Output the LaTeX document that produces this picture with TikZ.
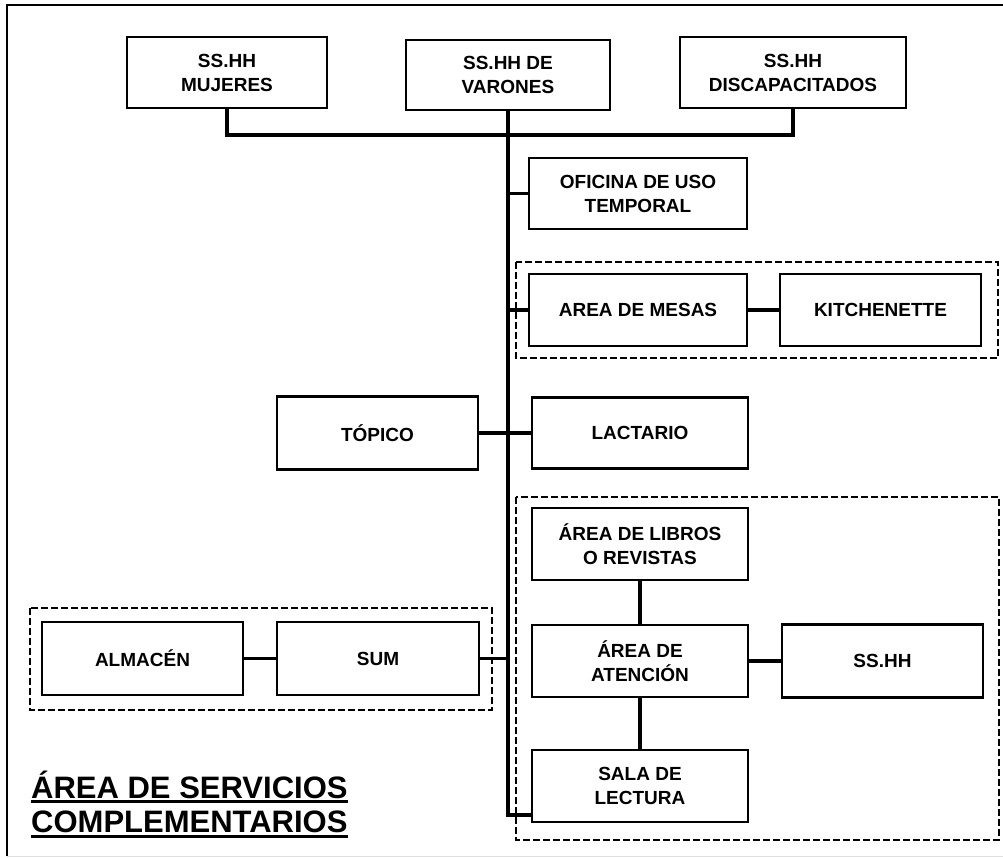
\documentclass[tikz,border=0pt]{standalone}
\usepackage{fontspec}
\setmainfont{Liberation Sans}
\usetikzlibrary{positioning}

\tikzset{
   caja/.style={draw, line width=2.2pt, align=center, inner sep=2pt,
      minimum width=201pt, minimum height=71pt,
      font=\bfseries\fontsize{19}{24}\selectfont},
   enlace/.style={line width=3.2pt},
   grupo/.style={line width=1.8pt, dash pattern=on 7pt off 3pt},
   titulo/.style={anchor=base west, inner sep=0pt,
      font=\bfseries\fontsize{31}{34}\selectfont},
}

\begin{document}
\begin{tikzpicture}[x=1pt, y=-1pt]
      \useasboundingbox (0,0) rectangle (1003,858);
      % Marco
      \draw[line width=1.8pt] (1003,5) -- (7,5) -- (7,856);
      \draw[line width=1pt, black!12] (7,856) -- (1003,856);
      % Grupos punteados
      \draw[grupo] (516,262) rectangle (998,358);
      \draw[grupo] (516,497) rectangle (999,840);
      \draw[grupo] (30,608) rectangle (492,710);
      % SS.HH superiores
      \node[caja, minimum width=200pt] (mujeres) at (227,72.5) {SS.HH\\MUJERES};
      \node[caja, minimum width=204pt, minimum height=70pt] (varones) at (508,75) {SS.HH DE\\VARONES};
      \node[caja, minimum width=226pt] (discap) at (793,72.5) {SS.HH\\DISCAPACITADOS};
      % Columna derecha
      \node[caja, minimum width=218pt] (oficina) at (638,193.5) {OFICINA DE USO\\TEMPORAL};
      \node[caja, minimum width=218pt, minimum height=72pt] (mesas) at (638,310) {AREA DE MESAS};
      \node[caja, minimum height=72pt] (kitchen) at (880.5,310) {KITCHENETTE};
      \node[caja, minimum height=73pt] (topico) at (377.5,433) {TÓPICO};
      \node[caja, minimum width=216pt] (lactario) at (640,433) {LACTARIO};
      \node[caja, minimum width=216pt, minimum height=72pt] (libros) at (640,544) {ÁREA DE LIBROS\\O REVISTAS};
      \node[caja, minimum width=216pt, minimum height=72pt] (atencion) at (640,661) {ÁREA DE\\ATENCIÓN};
      \node[caja, minimum height=73pt] (sshh) at (882.5,661) {SS.HH};
      \node[caja, minimum width=216pt, minimum height=72pt] (sala) at (640,786) {SALA DE\\LECTURA};
      % Grupo izquierdo
      \node[caja, minimum height=73pt] (almacen) at (142.5,658.5) {ALMACÉN};
      \node[caja, minimum width=202pt, minimum height=73pt] (sum) at (378,658.5) {SUM};
      % Conectores
      \coordinate (bus) at (0,135);
      \coordinate (pie) at (0,815);
      \draw[enlace] (mujeres.south) -- (mujeres.south |- bus) -| (discap.south);
      \draw[enlace] (varones.south) -- (varones.south |- pie) -- (pie -| sala.west);
      \draw[enlace] (oficina.west) -- (oficina.west -| varones.south);
      \draw[enlace] (mesas.west) -- (mesas.west -| varones.south);
      \draw[enlace] (mesas) -- (kitchen);
      \draw[enlace] (topico) -- (lactario);
      \draw[enlace] (sum.east) -- (sum.east -| varones.south);
      \draw[enlace] (almacen) -- (sum);
      \draw[enlace] (libros) -- (atencion);
      \draw[enlace] (atencion) -- (sala);
      \draw[enlace] (atencion) -- (sshh);
      % Titulo
      \node[titulo] (tit1) at (31,798) {ÁREA DE SERVICIOS};
      \node[titulo] (tit2) at (31,832) {COMPLEMENTARIOS};
      \draw[line width=3pt] ([yshift=-3pt]tit1.base west) -- ([yshift=-3pt]tit1.base east);
      \draw[line width=3pt] ([yshift=-4.5pt]tit2.base west) -- ([yshift=-4.5pt]tit2.base east);
\end{tikzpicture}
\end{document}
